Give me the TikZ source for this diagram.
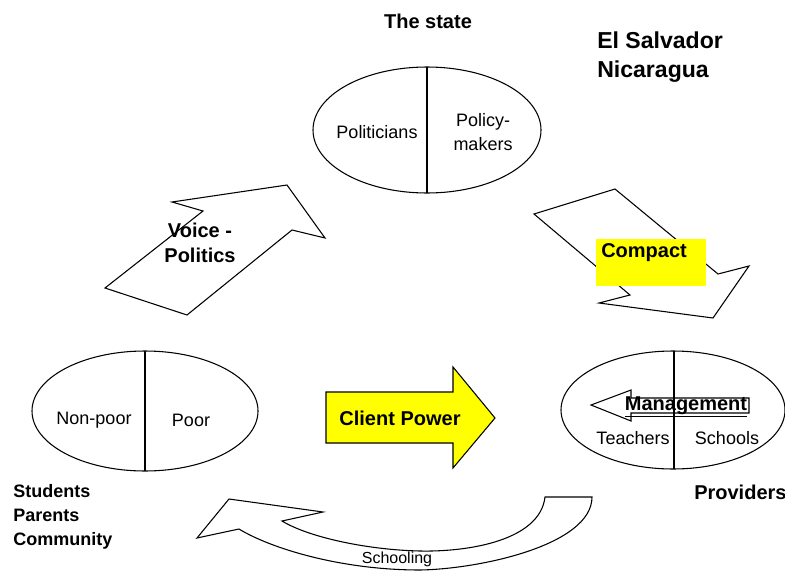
\documentclass[tikz,border=0pt]{standalone}
\usepackage{fontspec}
\setmainfont{Liberation Sans}
\definecolor{marker}{RGB}{255,255,0}
\tikzset{
	plain text/.style={inner sep=0pt, font=\fontsize{13.5}{18}\selectfont},
	bold text/.style={inner sep=0pt, font=\fontsize{15}{19}\selectfont\bfseries},
	block arrow/.style={draw=black, line width=0.8pt, line join=miter},
	split oval/.style={draw=black, line width=0.8pt},
}

\begin{document}
\begin{tikzpicture}[x=0.75pt,y=-0.75pt]

	\useasboundingbox (0,0) rectangle (785,571);

	%Ovals: centre (x,y), radii (rx,ry)
	\pgfmathsetmacro{\sx}{427}
	\pgfmathsetmacro{\sy}{130}
	\pgfmathsetmacro{\cx}{145}
	\pgfmathsetmacro{\cy}{411}
	\pgfmathsetmacro{\px}{673}
	\pgfmathsetmacro{\py}{410}

	%The state
	\draw[split oval] (\sx,\sy) ellipse [x radius=114, y radius=63];
	\draw[split oval] (\sx,\sy-63) -- (\sx,\sy+63);
	\node[plain text] (politicians) at (377,132) {Politicians};
	\node[plain text, align=center] (policymakers) at (483,132) {Policy-\\makers};
	\node[bold text] (state) at (428,21) {The state};
	\node[inner sep=0pt, anchor=west, align=left, font=\fontsize{17.3}{21.75}\selectfont\bfseries] (countries) at (597,57.5) {El Salvador\\Nicaragua};

	%Citizens
	\draw[split oval] (\cx,\cy) ellipse [x radius=113, y radius=60];
	\draw[split oval] (\cx,\cy-60) -- (\cx,\cy+60);
	\node[plain text] (nonpoor) at (94,420) {Non-poor};
	\node[plain text] (poor) at (191,420) {Poor};
	\node[bold text, anchor=west, align=left, font=\fontsize{13.5}{18}\selectfont\bfseries] (clients) at (13,517) {Students\\Parents\\Community};

	%Providers
	\draw[split oval] (\px,\py) ellipse [x radius=112, y radius=59];
	\draw[split oval] (\px+1,\py-59) -- (\px+1,\py+59);
	\node[plain text] (teachers) at (633,438) {Teachers};
	\node[plain text] (schools) at (727,438) {Schools};
	\node[bold text, anchor=west] (providers) at (694,492) {Providers};

	%Management (points left, inside the providers)
	\draw[block arrow] (591,405) -- (631,390) -- (631,398) -- (749,398) -- (749,413) -- (631,413) -- (631,421) -- cycle;
	\node[bold text] (management) at (686,407) {\underline{Management}};

	%Voice - Politics
	\draw[block arrow, fill=white] (105,288) -- (203,211) -- (172,202) -- (287,185) -- (325,238) -- (292,230) -- (187,315) -- cycle;
	\node[bold text, align=center] (voice) at (200,243) {Voice -\\Politics};

	%Compact
	\draw[block arrow, fill=white] (534,214) -- (615,189) -- (718,274) -- (749,266) -- (713,318) -- (599,303) -- (630,295) -- cycle;
	\fill[marker] (596,239) rectangle (706,286);
	\node[bold text, anchor=west] (compact) at (601,253) {Compact};

	%Client Power
	\draw[block arrow, fill=marker] (326,392) -- (453,392) -- (453,367) -- (495,418) -- (453,468) -- (453,443) -- (326,443) -- cycle;
	\node[bold text] (client) at (400,418) {Client Power};

	%Schooling (curved, back to the citizens)
	\draw[block arrow, fill=white] (592,497) -- (545,497)
		.. controls (540,540) and (470,552) .. (420,551)
		.. controls (370,550) and (310,538) .. (282,521)
		-- (323,512) -- (229,499) -- (197,538) -- (239,529)
		.. controls (270,548) and (340,570) .. (420,570)
		.. controls (480,569) and (592,545) .. cycle;
	\node[inner sep=0pt, font=\fontsize{12}{14}\selectfont] (schooling) at (397,559) {Schooling};

\end{tikzpicture}
\end{document}
